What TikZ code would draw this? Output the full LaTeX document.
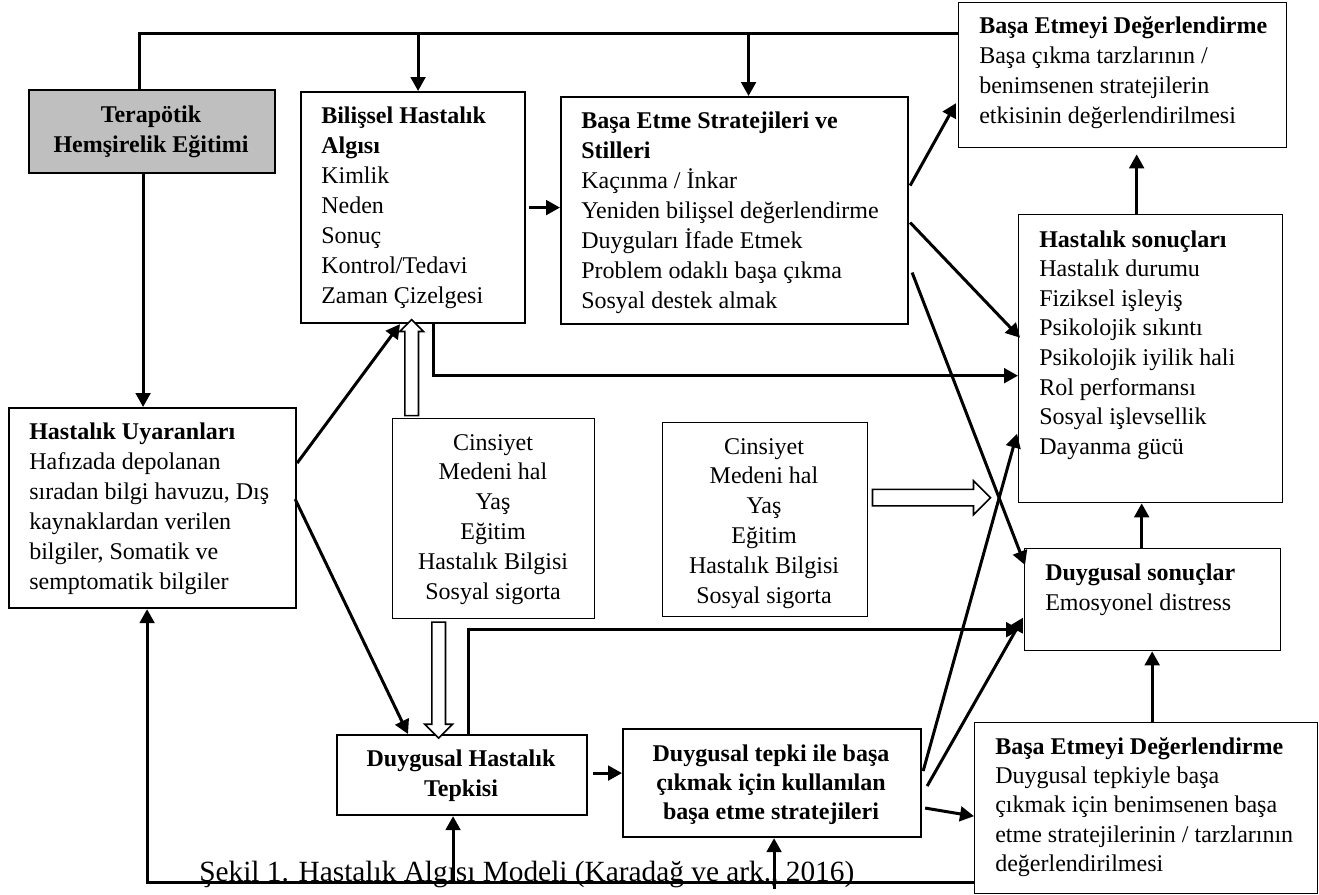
\documentclass[tikz,border=0pt]{standalone}
\usepackage{fontspec}
\setmainfont{Liberation Serif}
\usetikzlibrary{arrows.meta,calc,shapes.arrows}

% stacked lines whose baseline is the first line
\newcommand{\blk}[2]{\begin{tabular}[t]{@{}#1@{}}#2\end{tabular}}

\tikzset{
  frame/.style 2 args={draw, rectangle, inner sep=0pt, anchor=north west,
    minimum width=#1*0.75pt, minimum height=#2*0.75pt},
  heavy/.style={line width=1.6pt},
  light/.style={line width=1pt},
  txt/.style={inner sep=0pt, font=\fontsize{18}{22.5}\selectfont},
  ln/.style={line width=2.25pt, line join=miter},
  arr/.style={ln, -{Triangle[length=10.5pt,width=11pt]}},
  hollow/.style={single arrow, draw, fill=white, line width=1.2pt,
    inner xsep=0pt, single arrow head indent=0pt},
}

\begin{document}
\begin{tikzpicture}[x=0.75pt,y=-0.75pt]
\useasboundingbox (0,0) rectangle (1319,894);

% ---------- boxes ----------
\node[frame={246}{83}, heavy, fill=black!25] (ter)  at (28,89)   {};
\node[frame={224}{231}, heavy] (bil)  at (300,91)  {};
\node[frame={347}{227}, heavy] (str)  at (560,96)  {};
\node[frame={328}{145}, light] (ev1)  at (958,2)   {};
\node[frame={264}{288}, light] (out)  at (1018,214) {};
\node[frame={256}{102}, light] (emo)  at (1024,548) {};
\node[frame={287}{200}, heavy] (stim) at (8,407)   {};
\node[frame={202}{200}, light] (cin1) at (392,418) {};
\node[frame={205}{194}, light] (cin2) at (662,422) {};
\node[frame={250}{80},  heavy] (dht)  at (336,734) {};
\node[frame={298}{108}, heavy] (dts)  at (622,728) {};
\node[frame={343}{171}, light] (ev2)  at (974,722) {};

% ---------- texts ----------
\node[txt, anchor=base, font=\fontsize{18}{22.5}\selectfont\bfseries] (ter-t) at (151,122)
  {\blk{c}{Terapötik\\Hemşirelik Eğitimi}};
\node[txt, anchor=base west] (bil-t) at (321,123)
  {\blk{l}{\textbf{Bilişsel Hastalık}\\\textbf{Algısı}\\Kimlik\\Neden\\Sonuç\\Kontrol/Tedavi\\Zaman Çizelgesi}};
\node[txt, anchor=base west] (str-t) at (581,128)
  {\blk{l}{\textbf{Başa Etme Stratejileri ve}\\\textbf{Stilleri}\\Kaçınma / İnkar\\Yeniden bilişsel değerlendirme\\Duyguları İfade Etmek\\Problem odaklı başa çıkma\\Sosyal destek almak}};
\node[txt, anchor=base west] (ev1-t) at (979,33)
  {\blk{l}{\textbf{Başa Etmeyi Değerlendirme}\\Başa çıkma tarzlarının /\\benimsenen stratejilerin\\etkisinin değerlendirilmesi}};
\node[txt, anchor=base west, font=\fontsize{18}{22.2}\selectfont] (out-t) at (1039,247)
  {\blk{l}{\textbf{Hastalık sonuçları}\\Hastalık durumu\\Fiziksel işleyiş\\Psikolojik sıkıntı\\Psikolojik iyilik hali\\Rol performansı\\Sosyal işlevsellik\\Dayanma gücü}};
\node[txt, anchor=base west] (emo-t) at (1045,580)
  {\blk{l}{\textbf{Duygusal sonuçlar}\\Emosyonel distress}};
\node[txt, anchor=base west] (stim-t) at (29,439)
  {\blk{l}{\textbf{Hastalık Uyaranları}\\Hafızada depolanan\\sıradan bilgi havuzu, Dış\\kaynaklardan verilen\\bilgiler, Somatik ve\\semptomatik bilgiler}};
\node[txt, anchor=base, font=\fontsize{18}{22.35}\selectfont] (cin1-t) at (493,450)
  {\blk{c}{Cinsiyet\\Medeni hal\\Yaş\\Eğitim\\Hastalık Bilgisi\\Sosyal sigorta}};
\node[txt, anchor=base, font=\fontsize{18}{22.35}\selectfont] (cin2-t) at (764,454)
  {\blk{c}{Cinsiyet\\Medeni hal\\Yaş\\Eğitim\\Hastalık Bilgisi\\Sosyal sigorta}};
\node[txt, anchor=base, font=\fontsize{18}{22.5}\selectfont\bfseries] (dht-t) at (461,766)
  {\blk{c}{Duygusal Hastalık\\Tepkisi}};
\node[txt, anchor=base, font=\fontsize{18}{22.1}\selectfont\bfseries] (dts-t) at (771,761)
  {\blk{c}{Duygusal tepki ile başa\\çıkmak için kullanılan\\başa etme stratejileri}};
\node[txt, anchor=base west, font=\fontsize{18}{22.1}\selectfont] (ev2-t) at (995,754)
  {\blk{l}{\textbf{Başa Etmeyi Değerlendirme}\\Duygusal tepkiyle başa\\çıkmak için benimsenen başa\\etme stratejilerinin / tarzlarının\\değerlendirilmesi}};

% ---------- connectors ----------
\coordinate (topy) at (0,33);
\coordinate (boty) at (0,881);

% frame line from the therapeutic education box over the top
\draw[ln] ($(ter.north)+(-13,0)$) |- (ev1.west |- topy);
\draw[arr] ($(bil.north |- topy)+(5,0)$) -- ($(bil.north)+(5,0)$);
\draw[arr] ($(str.north |- topy)+(14,0)$) -- ($(str.north)+(14,0)$);
\draw[arr] ($(ter.south)+(-9,0)$) -- ($(ter.south |- stim.north)+(-9,0)$);

% stimuli to perceptions
\draw[arr] ($(stim.east)+(0,-45)$) -- ($(bil.south west)+(100,0)$);
\draw[arr] ($(stim.east)+(-2,-9)$) -- ($(dht.north west)+(72,0)$);

% cognitive path
\draw[arr] ($(bil.east)+(3,0)$) -- (bil.east -| str.west);
\draw[arr] ($(bil.south west)+(133,0)$) |- ($(out.west)+(0,17)$);
\draw[arr] ($(str.east)+(1,-25)$) -- ($(ev1.west)+(-2,28)$);
\draw[arr] ($(str.east)+(1,12)$) -- ($(out.west)+(2,-21)$);
\draw[arr] ($(str.east)+(3,62)$) -- ($(emo.north west)+(1,17)$);
\draw[arr] ($(out.north)+(-14,0)$) -- ($(ev1.south)+(14,6)$);
\draw[arr] ($(emo.north)+(-11,0)$) -- ($(emo.north |- out.south)+(-11,0)$);
\draw[arr] ($(ev2.north)+(6,0)$) -- ($(ev2.north |- emo.south)+(6,0)$);

% emotional path
\draw[arr] ($(dht.north)+(6,0)$) |- ($(emo.west)+(-4,30)$);
\draw[arr] ($(dht.east)+(5,-2)$) -- ($(dht.east -| dts.west)+(0,-2)$);
\draw[arr] ($(dts.east)+(1,-12)$) -- ($(out.west)+(-1,75)$);
\draw[arr] ($(dts.east)+(5,3)$) -- ($(emo.west)+(-1,18)$);
\draw[arr] ($(dts.east)+(3,25)$) -- ($(ev2.west)+(0,8)$);

% feedback line along the bottom
\draw[arr] ($(ev2.south west)+(0,-12)$) -| ($(stim.south)+(-5.5,0)$);
\draw[arr] ($(dht.south |- boty)+(-9,0)$) -- ($(dht.south)+(-9,0)$);
\draw[arr] ($(dts.south |- boty)+(2,8)$) -- ($(dts.south)+(2,0)$);

% demographic factors (hollow arrows)
\node[hollow, rotate=90, inner ysep=4.5pt, single arrow head extend=3.75pt,
      minimum height=72pt] (h1) at ($(cin1.north)!0.5!(cin1.north |- bil.south)+(-82,0)$) {};
\node[hollow, rotate=-90, inner ysep=4.5pt, single arrow head extend=5.25pt,
      minimum height=87pt] (h2) at ($(cin1.south)!0.5!(cin1.south |- dht.north)+(-55,0)$) {};
\node[hollow, inner ysep=5.6pt, single arrow head extend=6.5pt,
      minimum height=88.5pt] (h3) at ($(cin2.east)+(59,-22)$) {};

% caption
\node[inner sep=0pt, anchor=base west, font=\fontsize{22}{26}\selectfont] (cap) at (199,881)
  {Şekil 1. Hastalık Algısı Modeli (Karadağ ve ark., 2016)};
\end{tikzpicture}
\end{document}
